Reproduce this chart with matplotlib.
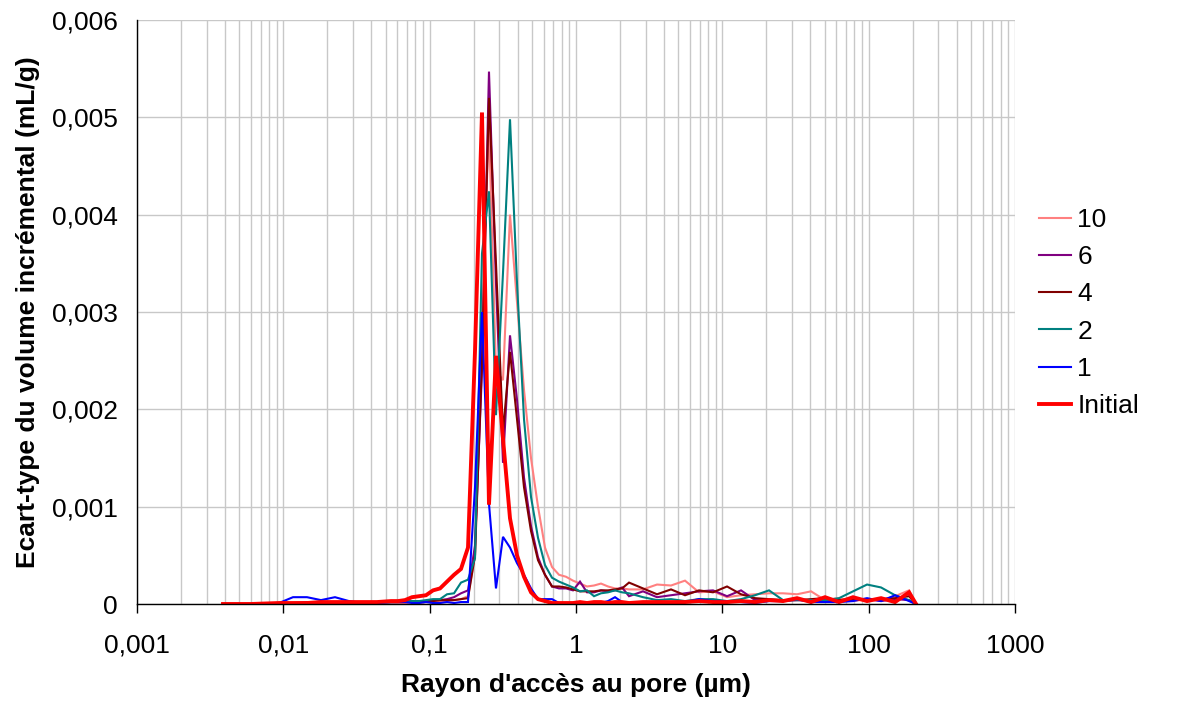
import matplotlib
matplotlib.use("Agg")
import matplotlib.pyplot as plt
from matplotlib.ticker import FixedLocator, FixedFormatter, LogLocator

# Pore access radius (µm)
radius = [0.00387, 0.00482, 0.00601, 0.00749, 0.00934, 0.01164, 0.01451, 0.01808, 0.02254, 0.02809,
          0.03502, 0.04365, 0.05441,
          0.06075, 0.06783, 0.07573, 0.08455, 0.09439, 0.1054, 0.1177, 0.1314, 0.1467, 0.1637,
          0.1828, 0.2041, 0.2278, 0.2543, 0.2839, 0.3170, 0.3540, 0.3952, 0.4412, 0.4926,
          0.5500, 0.6140, 0.6856, 0.7654, 0.8545, 0.9541, 1.065, 1.189, 1.328, 1.482,
          1.655, 1.848, 2.063, 2.303,
          2.871, 3.578, 4.461, 5.559, 6.930, 8.638, 10.77, 13.42, 16.73, 20.85,
          25.99, 32.39, 40.39, 50.33, 62.73, 78.20, 97.48, 121.5, 151.4, 188.8, 210.7]

s10 = [0, 0, 0, 0, 0.00001, 0.00001, 0.00001, 0.00001, 0.00001, 0.00001, 0.00001, 0.00001, 0.00001,
       0.00001, 0.00001, 0.00002, 0.00001, 0.00002, 0.00002, 0.00003, 0.00003, 0.00004, 0.00005,
       0.00008, 0.0005, 0.0030, 0.0049, 0.0024, 0.0023, 0.0040, 0.0031, 0.0022, 0.0015,
       0.0010, 0.00058, 0.00038, 0.0003, 0.00028, 0.00024, 0.00021, 0.00018, 0.00019, 0.00021,
       0.00018, 0.00016, 0.00016, 0.00015,
       0.00015, 0.0002, 0.00019, 0.00024, 0.00012, 0.00013, 0.00007, 0.00009, 0.0001, 0.00011,
       0.00011, 0.0001, 0.00013, 0.00004, 0.00006, 0.00003, 0.00005, 0.00004, 0.00008, 0.00014, 0]

s6 = [0, 0, 0, 0, 0.00001, 0.00001, 0.00002, 0.00001, 0.00001, 0.00002, 0.00001, 0.00002, 0.00002,
      0.00002, 0.00002, 0.00002, 0.00003, 0.00003, 0.00004, 0.00004, 0.00005, 0.00007, 0.00011,
      0.00014, 0.0006, 0.0024, 0.00547, 0.0033, 0.00145, 0.00276, 0.0021, 0.0013, 0.0008,
      0.00048, 0.0003, 0.00018, 0.00016, 0.00016, 0.00014, 0.00023, 0.00012, 0.00012, 0.00014,
      0.00013, 0.00014, 0.00017, 0.00008,
      0.00013, 0.00007, 0.00009, 0.00011, 0.00013, 0.00014, 0.00008, 0.00014, 0.00004, 0.00004,
      0.00003, 0.00004, 0.00003, 0.00004, 0.00003, 0.00004, 0.00005, 0.00003, 0.00005, 0.00004, 0]

s4 = [0, 0, 0, 0, 0.00001, 0.00001, 0.00001, 0.00001, 0.00002, 0.00001, 0.00001, 0.00002, 0.00002,
      0.00002, 0.00002, 0.00003, 0.00002, 0.00003, 0.00003, 0.00004, 0.00004, 0.00004, 0.00005,
      0.00006, 0.0005, 0.0025, 0.0052, 0.0035, 0.00176, 0.00259, 0.0019, 0.0012, 0.00075,
      0.00045, 0.0003, 0.00018, 0.00018, 0.00017, 0.00015, 0.00013, 0.00013, 0.00013, 0.00014,
      0.00014, 0.00015, 0.00016, 0.00022,
      0.00016, 0.0001, 0.00015, 0.00009, 0.00014, 0.00012, 0.00018, 0.0001, 0.00006, 0.00005,
      0.00004, 0.00004, 0.00005, 0.00006, 0.00004, 0.00005, 0.00004, 0.00005, 0.00006, 0.00008, 0]

s2 = [0, 0, 0, 0, 0.00001, 0.00001, 0.00001, 0.00001, 0.00001, 0.00002, 0.00002, 0.00001, 0.00002,
      0.00002, 0.00003, 0.00003, 0.00003, 0.00004, 0.00005, 0.00005, 0.0001, 0.00011, 0.00022,
      0.00025, 0.00047, 0.0036, 0.00424, 0.00194, 0.0034, 0.00498, 0.0033, 0.0019, 0.0011,
      0.00068, 0.0004, 0.00027, 0.00023, 0.0002, 0.00017, 0.00013, 0.00014, 0.00008, 0.00011,
      0.00012, 0.00014, 0.00012, 0.00011,
      0.00007, 0.00004, 0.00005, 0.00003, 0.00005, 0.00005, 0.00003, 0.00005, 0.00009, 0.00014,
      0.00004, 0.00004, 0.00004, 0.00004, 0.00006, 0.00013, 0.0002, 0.00017, 0.00009, 0.00004, 0]

s1 = [0, 0, 0, 0, 0.00001, 0.00007, 0.00007, 0.00004, 0.00007, 0.00003, 0.00001, 0.00001, 0.00002,
      0.00002, 0.00002, 0.00001, 0.00001, 0.00002, 0.00001, 0.00001, 0.00002, 0.00001, 0.00002,
      0.00002, 0.0012, 0.0030, 0.00103, 0.00016, 0.00069, 0.00058, 0.00042, 0.0003, 0.00016,
      0.00005, 0.00005, 0.00005, 0.00001, 0.00001, 0.00001, 0.00001, 0.00001, 0.00002, 0.00001,
      0.00003, 0.00007, 0.00002, 0.00001,
      0.00001, 0.00002, 0.00001, 0.00002, 0.00005, 0.00003, 0.00003, 0.00002, 0.00001, 0.00003,
      0.00003, 0.00005, 0.00002, 0.00002, 0.00002, 0.00003, 0.00006, 0.00003, 0.00009, 0.00003, 0]

s_init = [0, 0, 0, 0.000005, 0.00001, 0.00001, 0.00001, 0.00002, 0.00002, 0.00002, 0.00002, 0.00002, 0.00003,
          0.00003, 0.00004, 0.00007, 0.00008, 0.00009, 0.00014, 0.00016, 0.00023, 0.0003, 0.00036,
          0.00058, 0.0026, 0.00505, 0.00102, 0.00255, 0.0017, 0.00088, 0.0005, 0.00028, 0.00012,
          0.00005, 0.00003, 0.00001, 0.00001, 0.00001, 0.00001, 0.00002, 0.00001, 0.00002, 0.00002,
          0.00001, 0.00002, 0.00002, 0.00001,
          0.00002, 0.00002, 0.00002, 0.00002, 0.00003, 0.00002, 0.00002, 0.00003, 0.00002, 0.00004,
          0.00003, 0.00006, 0.00002, 0.00007, 0.00002, 0.00007, 0.00003, 0.00006, 0.00002, 0.00012, 0]

series_labels = ["10", "6", "4", "2", "1", "Initial"]
series_colors = ["#ff8080", "#800080", "#800000", "#008080", "#0000ff", "#ff0000"]
series_widths = [1.5, 1.5, 1.5, 1.5, 1.5, 2.8]

x_ticks = [0.001, 0.01, 0.1, 1, 10, 100, 1000]
x_ticklabels = ["0,001", "0,01", "0,1", "1", "10", "100", "1000"]
y_ticks = [0, 0.001, 0.002, 0.003, 0.004, 0.005, 0.006]
y_ticklabels = ["0", "0,001", "0,002", "0,003", "0,004", "0,005", "0,006"]

plt.rcParams['font.family'] = ['Liberation Sans', 'DejaVu Sans']
FS = 19

fig = plt.figure(figsize=(11.79, 7.04), dpi=100)
ax = fig.add_axes([137 / 1179, 1 - 604 / 704, 878 / 1179, 584 / 704])

data = [s10, s6, s4, s2, s1, s_init]
for vals, lab, col, lw in zip(data, series_labels, series_colors, series_widths):
    ax.plot(radius, vals, color=col, lw=lw, label=lab, solid_joinstyle='miter')

ax.set_xscale('log')
ax.set_xlim(0.001, 1000)
ax.set_ylim(0, 0.006)

ax.xaxis.set_major_locator(FixedLocator(x_ticks))
ax.xaxis.set_major_formatter(FixedFormatter(x_ticklabels))
ax.xaxis.set_minor_locator(LogLocator(base=10, subs=[2, 3, 4, 5, 6, 7, 8, 9], numticks=20))
ax.yaxis.set_major_locator(FixedLocator(y_ticks))
ax.yaxis.set_major_formatter(FixedFormatter(y_ticklabels))

ax.grid(True, which='major', axis='both', color='#c8c8c8', lw=1.0, zorder=0)
ax.grid(True, which='minor', axis='x', color='#c8c8c8', lw=1.0, zorder=0)
ax.set_axisbelow(True)

ax.tick_params(axis='x', which='major', direction='out', length=6.5, width=1, color='black',
               labelsize=FS, pad=15)
ax.tick_params(axis='x', which='minor', length=0)
ax.tick_params(axis='y', which='both', length=0, labelsize=FS, pad=14)

for side in ['top', 'right']:
    ax.spines[side].set_visible(False)
ax.spines['bottom'].set_color('black')
ax.spines['left'].set_color('black')
ax.spines['bottom'].set_linewidth(1.0)
ax.spines['left'].set_linewidth(1.0)

ax.set_xlabel("Rayon d'accès au pore (µm)", fontsize=FS, fontweight='bold')
ax.xaxis.set_label_coords(0.5, -0.118)
ax.set_ylabel("Ecart-type du volume incrémental (mL/g)", fontsize=FS, fontweight='bold')
ax.yaxis.set_label_coords(-0.110, 0.5)

fig.legend(loc='upper left', bbox_to_anchor=(1039 / 1179, 1 - 208 / 704), frameon=False,
           fontsize=FS, handlelength=1.2, handletextpad=0.25, labelspacing=0.5,
           borderpad=0, borderaxespad=0)

fig.savefig("out.png", dpi=100)
